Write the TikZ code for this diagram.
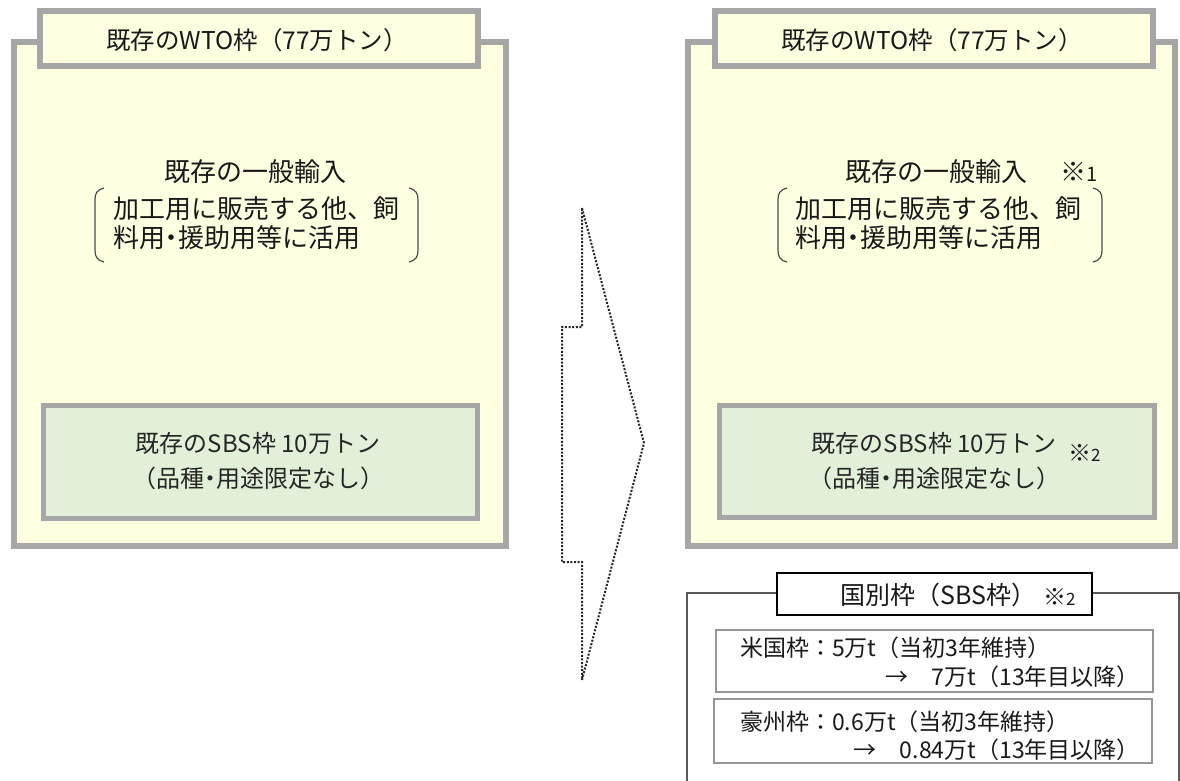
\documentclass[tikz,border=0pt]{standalone}
\usepackage{fontspec}
\setmainfont{Noto Sans CJK JP}
\newfontfamily\jpp[RawFeature=+palt]{Noto Sans CJK JP}
\newcommand{\ndot}{{\jpp ・}}
\definecolor{panelfill}{RGB}{255,255,226}
\definecolor{greenfill}{RGB}{226,240,217}
\definecolor{framegray}{RGB}{166,166,166}
\definecolor{thingray}{RGB}{150,150,150}
\tikzset{
  panel/.style={draw=framegray, line width=6pt, fill=panelfill, inner sep=0pt},
  titlebox/.style={draw=framegray, line width=6pt, fill=panelfill, inner sep=0pt},
  sbsbox/.style={draw=framegray, line width=5pt, fill=greenfill, inner sep=0pt},
  itembox/.style={draw=thingray, line width=1.4pt, fill=white, inner sep=0pt},
  ctitlebox/.style={draw=black, line width=1.6pt, fill=white, inner sep=0pt},
  txt/.style={inner sep=0pt, font=\fontsize{26}{29}\selectfont, text=black!90},
  ttl/.style={inner sep=0pt, font=\fontsize{24.5}{28}\selectfont, text=black!90},
  gtxt/.style={inner sep=0pt, font=\fontsize{24}{35}\selectfont, text=black!85, align=center},
  itxt/.style={inner sep=0pt, font=\fontsize{23}{26}\selectfont, text=black!90},
  brk/.style={draw=black!70, line width=1.2pt},
  bigarrow/.style={draw=black!85, line width=2pt, dash pattern=on 2pt off 1.6pt, line join=miter}
}
\begin{document}
\begin{tikzpicture}[x=1pt,y=-1pt]
\useasboundingbox (0,0) rectangle (1180,780);
\fill[white] (0,0) rectangle (1180,780);

% ---------- left panel ----------
\node[panel, minimum width=492pt, minimum height=504pt] (Lout) at (260,294) {};
\node[titlebox, minimum width=438pt, minimum height=55pt] (Ltitlebox) at (259,38.5) {};
\node[ttl] (Ltitle) at (257,40) {既存のWTO枠（77万トン）};
\node[txt] (Lgen) at (255,172) {既存の一般輸入};
\node[txt, anchor=west, align=left] (Luse) at (113,223) {加工用に販売する他、飼\\料用\ndot 援助用等に活用};
\draw[brk] (104,188) .. controls (97,190) and (95,193) .. (95,200) -- (95,250) .. controls (95,257) and (97,260) .. (104,262);
\draw[brk] (409,188) .. controls (416,190) and (418,193) .. (418,200) -- (418,250) .. controls (418,257) and (416,260) .. (409,262);
\node[sbsbox, minimum width=434pt, minimum height=113pt] (Lsbs) at (260,461.5) {};
\node[gtxt] (Lsbstxt) at (258,461) {既存のSBS枠 10万トン\\（品種\ndot 用途限定なし）};

% ---------- arrow ----------
\coordinate (A1) at (582,208);
\coordinate (A2) at (644,443);
\coordinate (A3) at (582,680);
\coordinate (A4) at (582,562);
\coordinate (A5) at (562,562);
\coordinate (A6) at (562,327);
\coordinate (A7) at (582,327);
\draw[bigarrow] (A1) -- (A2) -- (A3) -- (A4) -- (A5) -- (A6) -- (A7) -- cycle;

% ---------- right panel ----------
\node[panel, minimum width=487pt, minimum height=504pt] (Rout) at (931.5,294) {};
\node[titlebox, minimum width=438pt, minimum height=55pt] (Rtitlebox) at (934,38.5) {};
\node[ttl] (Rtitle) at (932,40) {既存のWTO枠（77万トン）};
\node[txt, anchor=west] (Rgen) at (845,172) {既存の一般輸入};
\node[txt, anchor=west] (Rnote1) at (1060,172) {※\fontsize{20}{20}\selectfont 1};
\node[txt, anchor=west, align=left] (Ruse) at (795,223) {加工用に販売する他、飼\\料用\ndot 援助用等に活用};
\draw[brk] (787,188) .. controls (780,190) and (778,193) .. (778,200) -- (778,250) .. controls (778,257) and (780,260) .. (787,262);
\draw[brk] (1093,188) .. controls (1100,190) and (1102,193) .. (1102,200) -- (1102,250) .. controls (1102,257) and (1100,260) .. (1093,262);
\node[sbsbox, minimum width=435pt, minimum height=112pt] (Rsbs) at (936.5,461) {};
\node[gtxt] (Rsbstxt) at (934,461) {既存のSBS枠 10万トン\\（品種\ndot 用途限定なし）};
\node[txt, anchor=west, font=\fontsize{23}{23}\selectfont] (Rnote2) at (1068,453) {※\fontsize{17}{17}\selectfont 2};

% ---------- country frames ----------
\coordinate (C1) at (687,790);
\coordinate (C2) at (687,593);
\coordinate (C3) at (1179,593);
\coordinate (C4) at (1179,790);
\draw[draw=black!65, line width=1.4pt] (C1) -- (C2) -- (C3) -- (C4);
\node[ctitlebox, minimum width=315pt, minimum height=42pt] (Ctitlebox) at (934.5,594) {};
\node[itxt, anchor=west, font=\fontsize{25}{26}\selectfont] (Ctitle) at (840,595) {国別枠（SBS枠）};
\node[itxt, anchor=west, font=\fontsize{23}{23}\selectfont] (Cnote) at (1043,597) {※\fontsize{17}{17}\selectfont 2};
\node[itembox, minimum width=437pt, minimum height=62pt] (Ibox1) at (934.5,661) {};
\node[itxt, anchor=west] (I1a) at (740,648) {米国枠：5万t（当初3年維持）};
\node[itxt, anchor=east] (I1b) at (1140,677) {→　7万t（13年目以降）};
\node[itembox, minimum width=438pt, minimum height=64pt] (Ibox2) at (933,731) {};
\node[itxt, anchor=west] (I2a) at (740,722) {豪州枠：0.6万t（当初3年維持）};
\node[itxt, anchor=east] (I2b) at (1140,750) {→　0.84万t（13年目以降）};
\end{tikzpicture}
\end{document}
